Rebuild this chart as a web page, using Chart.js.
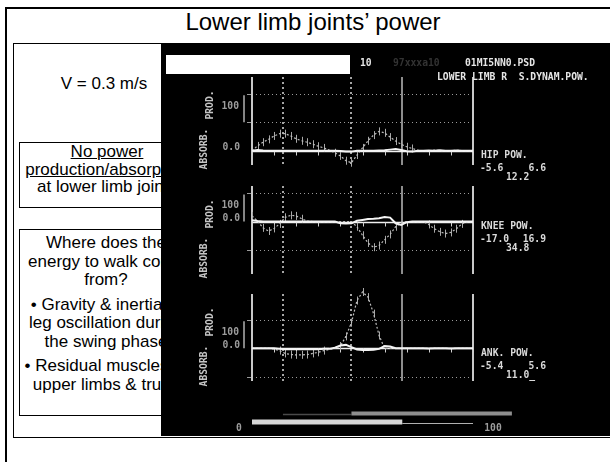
<!DOCTYPE html>
<html>
<head>
<meta charset="utf-8">
<title>Lower limb joints' power</title>
<script src="https://cdn.jsdelivr.net/npm/chart.js@4.4.1/dist/chart.umd.min.js"></script>
<style>
  html, body { margin: 0; padding: 0; width: 610px; height: 462px; overflow: hidden; background: #fff; }
  body { position: relative; font-family: "Liberation Sans", Arial, sans-serif; color: #000; }
  .abs { position: absolute; }
  #frame { left: 5px; top: 7px; width: 700px; height: 600px; border-left: 2px solid #000; border-top: 2px solid #000; }
  #title { left: 0; top: 10px; width: 626px; text-align: center; font-size: 24px; line-height: 24px; }
  #inner { left: 13px; top: 43px; width: 700px; height: 393px; border: 1px solid #000; }
  .txt { font-size: 17px; text-align: center; white-space: nowrap; }
  #speed { left: 19px; width: 170px; top: 75px; line-height: 18px; }
  #box1 { left: 19px; top: 142px; width: 174px; height: 64px; border: 1px solid #000; line-height: 17.5px; }
  #box2 { left: 19px; top: 229px; width: 172px; height: 181px; border: 1px solid #000; line-height: 18.5px; padding-top: 4px; }
  #box2 p { margin: 0 0 6px 0; }
  #scope { left: 161px; top: 44px; width: 449px; height: 392px; background: #000; overflow: hidden; }
  #scope canvas { position: absolute; left: 0; }
  .mono { position: absolute; font: bold 9.7px "DejaVu Sans Mono", monospace; color: #e6e6e6; white-space: pre; line-height: 12px; }
</style>
</head>
<body>
<div id="frame" class="abs"></div>
<div id="title" class="abs">Lower limb joints’ power</div>
<div id="inner" class="abs"></div>
<div id="speed" class="abs txt">V = 0.3 m/s</div>
<div id="box1" class="abs txt"><u>No power</u><br><u>production/absorption</u><br>at lower limb joints</div>
<div id="box2" class="abs txt">
  <p>Where does the<br>energy to walk come<br>from?</p>
  <p>• Gravity &amp; inertia of<br>leg oscillation during<br>the swing phase</p>
  <p>• Residual muscles of<br>upper limbs &amp; trunk</p>
</div>

<div id="scope" class="abs">
  <canvas id="hipChart" width="449" height="139" style="top:0px"></canvas>
  <canvas id="kneeChart" width="449" height="103" style="top:139px"></canvas>
  <canvas id="ankleChart" width="449" height="150" style="top:242px"></canvas>
  <div style="position:absolute;left:5px;top:11px;width:184px;height:19px;background:#fff"></div>
  <div class="mono" style="left:199px;top:13px">10</div>
  <div class="mono" style="left:232px;top:13px;color:#333">97xxxa10</div>
  <div class="mono" style="left:304px;top:13px">01MI5NN0.PSD</div>
  <div class="mono" style="left:276px;top:27px">LOWER LIMB R  S.DYNAM.POW.</div>
</div>

<script>
// gait cycle (%)
const pct = [0, 2.5, 5, 7.5, 10, 12.5, 15, 17.5, 20, 22.5,
  25, 27.5, 30, 32.5, 35, 37.5, 40, 42.5, 45, 47.5,
  50, 52.5, 55, 57.5, 60, 62.5, 65, 67.5, 70, 72.5,
  75, 77.5, 80, 82.5, 85, 87.5, 90, 92.5, 95, 97.5, 100];

// hip power: normal (dotted) and patient (white)
const hipNormal = [0, 17, 30, 40, 52, 60, 60, 52, 42, 35,
  30, 23, 16, 10, 2, -7, -18, -35, -42, -15,
  10, 35, 55, 68, 63, 48, 34, 23, 14, 8,
  2, 0, 0, 2, 1, 0, 0, 2, 0, 0, 0];
const hipPatient = [0, 3, 1, 0, 0, 0, 0, 0, 0, 0,
  0, 0, 0, 0, 0, 0, -1, -3, -3, 0,
  0, 0, 0, 1, 2, 4, 6, 3, -2, -3,
  0, 0, 1, 0, 2, 0, 0, 1, 0, 0, 0];

// knee power
const kneeNormal = [20, 2, -22, -33, -24, -8, 15, 22, 20, 10,
  2, 0, 0, 0, 0, 0, 0, 0, 0, -18,
  -48, -75, -90, -84, -64, -45, -18, -3, 0, 0,
  0, 0, -10, -25, -36, -42, -38, -25, -8, 0, 0];
const kneePatient = [5, 2, 0, 0, 0, 0, 0, 0, 0, 0,
  0, 0, 0, 0, 0, 0, -6, -7, -6, 3,
  6, 9, 10, 12, 16, 14, -6, -12, -2, 0,
  0, 0, 0, 0, 0, 0, 0, 0, 0, 0, 0];

// ankle power
const ankleNormal = [0, 0, 0, 0, -3, -8, -18, -22, -23, -23,
  -22, -18, -14, -8, -4, 0, 8, 42, 90, 168,
  198, 180, 122, 45, 0, 0, 0, 0, 0, 0,
  0, 0, 0, 0, 0, 0, 0, 0, 0, 0, 0];
const anklePatient = [0, 0, 0, 0, 0, -2, -3, -3, -3, -3,
  -3, -3, -3, -2, -2, 2, 10, 12, 4, -4,
  -6, -6, -5, -2, 8, 6, 0, 0, 0, 0,
  0, 0, -1, 0, 0, 0, -1, 0, 0, 0, 0];

// gait events (%)
const dottedEvents = [14, 45];
const solidEvents = [68];
const xTicks = [0, 10, 20, 30, 40, 50, 60, 70, 80, 90, 100];

// phase bars under the plots (%)
const contraDouble = [14, 45];
const contraStance = [45, 117.6];
const ipsiStance = [0, 68];
const ipsiSwing = [68, 100];

// side texts: name, min, max, range
const hipStats = ['HIP POW.', '-5.6', '6.6', '12.2'];
const kneeStats = ['KNEE POW.', '-17.0', '16.9', '34.8'];
const ankleStats = ['ANK. POW.', '-5.4', '5.6', '11.0_'];

const MONO = 'bold 9.7px "DejaVu Sans Mono", monospace';

const scopePlugin = {
  id: 'scope',
  beforeDatasetsDraw(chart, args, o) {
    const ctx = chart.ctx, a = chart.chartArea;
    const x = chart.scales.x, y = chart.scales.y;
    const seg = (x1, y1, x2, y2) => { ctx.beginPath(); ctx.moveTo(x1, y1); ctx.lineTo(x2, y2); ctx.stroke(); };
    const y0 = Math.round(y.getPixelForValue(0)) + 0.5;
    ctx.save();

    // dotted reference lines + small ticks
    ctx.strokeStyle = '#9a9a9a';
    ctx.lineWidth = 1;
    o.grid.forEach(v => {
      const py = Math.round(y.getPixelForValue(v)) + 0.5;
      ctx.setLineDash([1, 3]);
      seg(a.left, py, a.right, py);
      ctx.setLineDash([]);
      seg(a.left - 5, py, a.left, py);
    });

    // events
    ctx.strokeStyle = '#dcdcdc';
    ctx.lineWidth = 1.5;
    ctx.setLineDash([2, 3]);
    dottedEvents.forEach(e => { const px = Math.round(x.getPixelForValue(e)); seg(px, a.top, px, a.bottom); });
    ctx.setLineDash([]);
    ctx.strokeStyle = '#bdbdbd';
    solidEvents.forEach(e => { const px = Math.round(x.getPixelForValue(e)); seg(px, a.top, px, a.bottom); });
    ctx.lineWidth = 2;
    ctx.strokeStyle = '#c8c8c8';
    [0, 100].forEach(e => { const px = Math.round(x.getPixelForValue(e)); seg(px, a.top, px, a.bottom); });

    // zero line
    ctx.strokeStyle = '#f0f0f0';
    ctx.lineWidth = 1.5;
    seg(a.left, y0, a.right, y0);
    ctx.lineWidth = 1;
    ctx.strokeStyle = '#cfcfcf';
    xTicks.forEach(t => { const px = Math.round(x.getPixelForValue(t)) + 0.5; seg(px, y0, px, y0 + 4); });

    // hatching on normal curve
    ctx.strokeStyle = '#a8a8a8';
    chart.data.datasets[1].data.forEach(p => {
      if (Math.abs(p.y) < 5) return;
      const px = Math.round(x.getPixelForValue(p.x)) + 0.5, py = y.getPixelForValue(p.y);
      seg(px, py - 4, px, py + 4);
    });

    // 100-unit scale bar
    ctx.strokeStyle = '#b0b0b0';
    ctx.lineWidth = 1.5;
    const bx = a.left - 8;
    seg(bx, y.getPixelForValue(o.barBase), bx, y.getPixelForValue(o.barBase + 95));

    // phase bars
    if (o.phases) {
      const b = a.bottom;
      ctx.strokeStyle = '#4a4a4a';
      ctx.lineWidth = 1.5;
      seg(x.getPixelForValue(contraDouble[0]), b + 33.5, x.getPixelForValue(contraDouble[1]), b + 33.5);
      ctx.fillStyle = '#8e8e8e';
      ctx.fillRect(x.getPixelForValue(contraStance[0]), b + 30.5, x.getPixelForValue(contraStance[1]) - x.getPixelForValue(contraStance[0]), 4);
      ctx.fillStyle = '#d6d6d6';
      ctx.fillRect(x.getPixelForValue(ipsiStance[0]), b + 38.5, x.getPixelForValue(ipsiStance[1]) - x.getPixelForValue(ipsiStance[0]), 5);
      ctx.strokeStyle = '#b0b0b0';
      ctx.lineWidth = 1;
      seg(x.getPixelForValue(ipsiSwing[0]), b + 42.5, x.getPixelForValue(ipsiSwing[1]), b + 42.5);
    }
    ctx.restore();
  },
  afterDraw(chart, args, o) {
    const ctx = chart.ctx, a = chart.chartArea;
    const x = chart.scales.x, y = chart.scales.y;
    const y0 = y.getPixelForValue(0);
    ctx.save();
    ctx.font = MONO;
    ctx.textBaseline = 'middle';

    // axis numbers
    ctx.fillStyle = '#9c9c9c';
    ctx.textAlign = 'right';
    ctx.fillText('100', a.left - 13, y.getPixelForValue(o.barBase + 55));
    ctx.fillText('0.0', a.left - 12, y0 - 3);

    // side stats
    ctx.fillStyle = '#dadada';
    ctx.textAlign = 'left';
    ctx.fillText(o.stats[0], a.right + 8, y0 + 5);
    ctx.fillText(o.stats[1], a.right + 7, y0 + 18);
    ctx.fillText(o.stats[3], a.right + 33, y0 + 27);
    ctx.textAlign = 'right';
    ctx.fillText(o.stats[2], a.right + 73, y0 + 18);

    // rotated axis words
    ctx.fillStyle = '#c4c4c4';
    ctx.textAlign = 'center';
    [['ABSORB.', a.left - 48, a.top + 72], ['PROD.', a.left - 42, a.top + 28]].forEach(t => {
      ctx.save();
      ctx.translate(t[1], t[2]);
      ctx.rotate(-Math.PI / 2);
      ctx.fillText(t[0], 0, 0);
      ctx.restore();
    });

    if (o.phases) {
      ctx.fillStyle = '#9c9c9c';
      ctx.fillText('0', a.left - 13, a.bottom + 47);
      ctx.fillText('100', x.getPixelForValue(100) + 20, a.bottom + 47);
    }
    ctx.restore();
  }
};

function panel(id, normal, patient, yMin, yMax, pad, opts) {
  return new Chart(document.getElementById(id), {
    type: 'line',
    data: {
      datasets: [
        {
          label: 'patient',
          data: patient.map((v, i) => ({ x: pct[i], y: v })),
          borderColor: '#f4f4f4',
          borderWidth: 2,
          pointRadius: 0,
          clip: false
        },
        {
          label: 'normal',
          data: normal.map((v, i) => ({ x: pct[i], y: v })),
          borderColor: '#bdbdbd',
          borderWidth: 1.2,
          borderDash: [2, 2],
          pointRadius: 0,
          clip: false
        }
      ]
    },
    options: {
      responsive: false,
      animation: false,
      events: [],
      layout: { padding: pad },
      scales: {
        x: { type: 'linear', min: 0, max: 100, display: false },
        y: { min: yMin, max: yMax, display: false }
      },
      plugins: {
        legend: { display: false },
        tooltip: { enabled: false },
        scope: opts
      }
    },
    plugins: [scopePlugin]
  });
}

// HIP
panel('hipChart', hipNormal, hipPatient, -50, 259,
  { left: 91, right: 137, top: 33, bottom: 18 },
  { grid: [100, 200], barBase: 100, stats: hipStats, phases: false });

// KNEE
panel('kneeChart', kneeNormal, kneePatient, -184, 125,
  { left: 91, right: 137, top: 3, bottom: 12 },
  { grid: [100, -100], barBase: 0, stats: kneeStats, phases: false });

// ANKLE
panel('ankleChart', ankleNormal, anklePatient, -115, 191,
  { left: 91, right: 137, top: 8, bottom: 55 },
  { grid: [100, -100], barBase: 0, stats: ankleStats, phases: true });
</script>
</body>
</html>
